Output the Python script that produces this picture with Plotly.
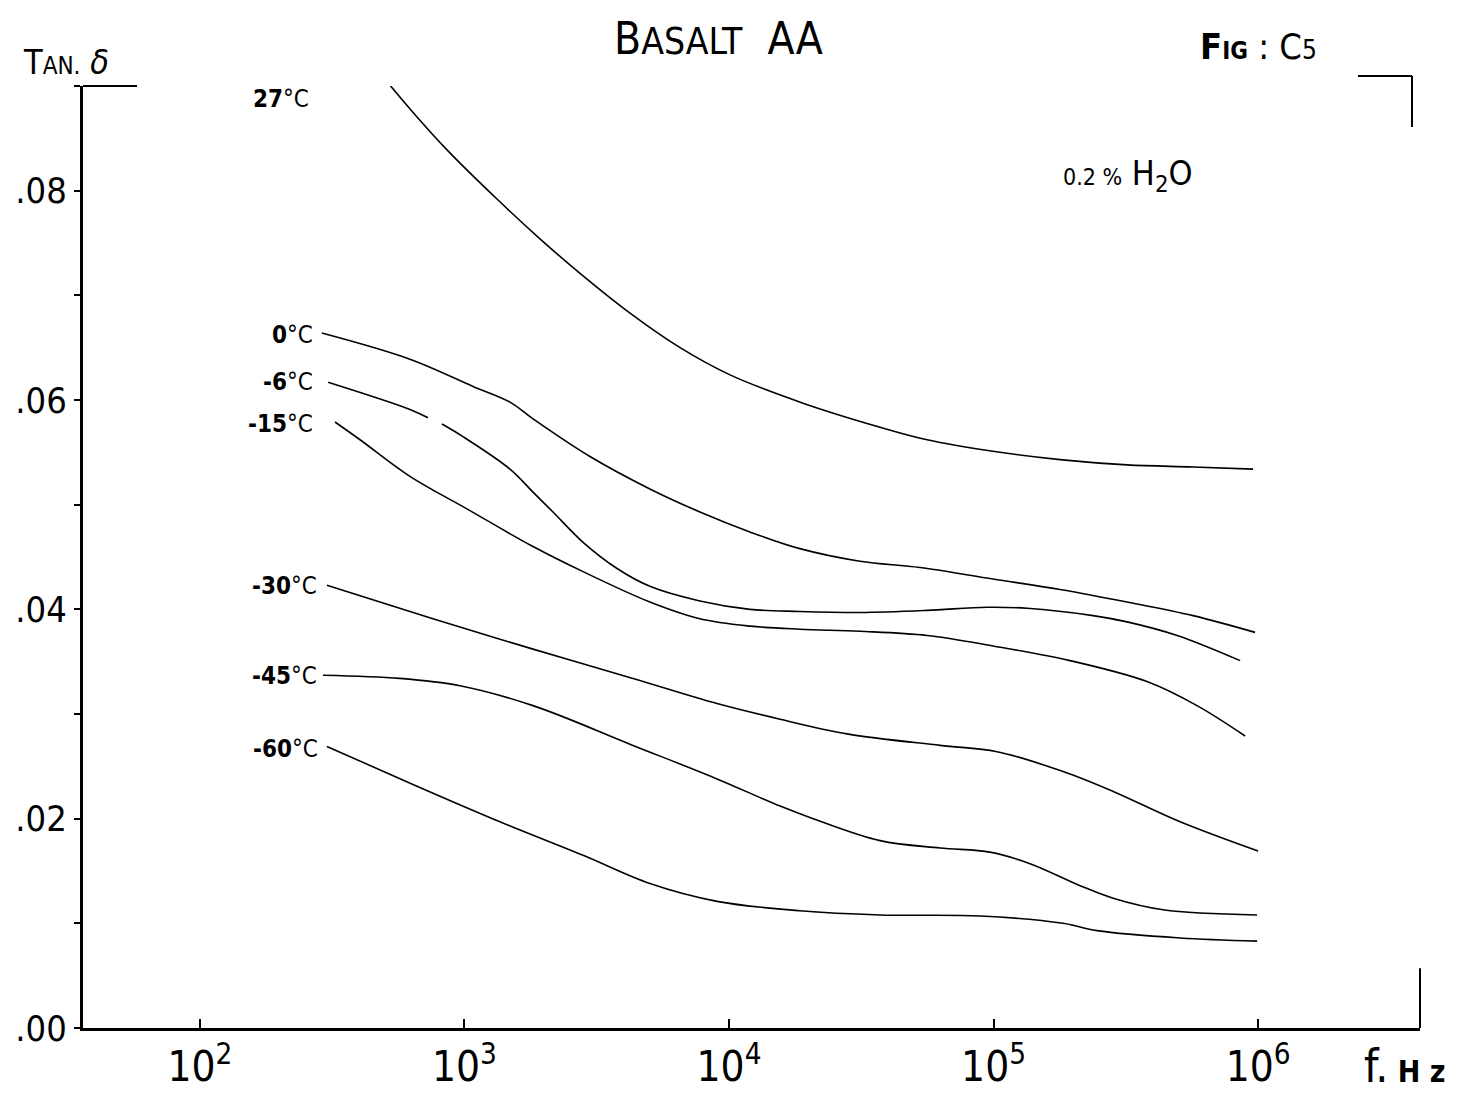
import math
import plotly.graph_objects as go

# ---- data (frequency in Hz, tan delta) ----
f_27 = [514, 638, 859, 1327, 1929, 2734, 4225, 6531, 10090, 19050, 37240, 56100, 99500, 178300, 319600, 567600, 957000]
t_27 = [0.0903, 0.0875, 0.0839, 0.0792, 0.0754, 0.0721, 0.0683, 0.0650, 0.0624, 0.0597, 0.0574, 0.0562, 0.0551, 0.0543, 0.0538, 0.0536, 0.0534]

f_0 = [289, 622, 1077, 1486, 1816, 2981, 5022, 7762, 11990, 18530, 31240, 52700, 99500, 178300, 319600, 567600, 974000]
t_0 = [0.0664, 0.0639, 0.0613, 0.0598, 0.0582, 0.0546, 0.0515, 0.0493, 0.0474, 0.0458, 0.0446, 0.0440, 0.0429, 0.0419, 0.0407, 0.0394, 0.0378]

f_m6 = [305, 622, 728, None, 822, 987, 1486, 1816, 2161, 2808, 3774, 5022, 7762, 11990, 18530, 31240, 56100, 94450, 133900, 237800, 319600, 494300, 855000]
t_m6 = [0.0617, 0.0591, 0.0583, None, 0.0577, 0.0565, 0.0534, 0.0512, 0.0493, 0.0464, 0.0439, 0.0422, 0.0408, 0.0400, 0.0398, 0.0397, 0.0399, 0.0402, 0.0401, 0.0394, 0.0388, 0.0375, 0.0351]

f_m15 = [324, 403, 622, 1021, 1816, 2808, 5022, 7762, 11990, 18530, 31240, 56100, 99500, 194600, 380200, 587500, 893000]
t_m15 = [0.0579, 0.0562, 0.0527, 0.0496, 0.0460, 0.0436, 0.0407, 0.0391, 0.0384, 0.0381, 0.0379, 0.0375, 0.0365, 0.0351, 0.0331, 0.0308, 0.0279]

f_m30 = [302, 760, 1816, 4335, 9010, 15600, 27930, 62800, 103000, 183200, 283200, 507500, 1000000]
t_m30 = [0.0423, 0.0391, 0.0362, 0.0334, 0.0310, 0.0295, 0.0281, 0.0270, 0.0264, 0.0245, 0.0226, 0.0197, 0.0169]

f_m45 = [292, 570, 961, 1816, 4335, 9010, 15600, 20800, 37240, 62800, 97000, 137400, 212300, 283200, 437600, 991000]
t_m45 = [0.0337, 0.0334, 0.0327, 0.0308, 0.0270, 0.0238, 0.0212, 0.0200, 0.0179, 0.0172, 0.0168, 0.0157, 0.0136, 0.0124, 0.0113, 0.0108]

f_m60 = [302, 661, 1361, 2808, 5022, 9010, 18530, 37240, 88900, 183200, 246000, 507500, 991000]
t_m60 = [0.0269, 0.0231, 0.0197, 0.0165, 0.0138, 0.0121, 0.0112, 0.0108, 0.0107, 0.0100, 0.0093, 0.0086, 0.0083]

series = [
    ("27°C", f_27, t_27),
    ("0°C", f_0, t_0),
    ("-6°C", f_m6, t_m6),
    ("-15°C", f_m15, t_m15),
    ("-30°C", f_m30, t_m30),
    ("-45°C", f_m45, t_m45),
    ("-60°C", f_m60, t_m60),
]

# curve labels: (number part, label y value, right-edge frequency)
label_nums = ["27", "0", "-6", "-15", "-30", "-45", "-60"]
label_y = [0.0888, 0.0662, 0.0617, 0.0577, 0.0422, 0.0336, 0.0267]
label_right_f = [262, 272, 272, 272, 282, 282, 284]

x_tickvals = [1e2, 1e3, 1e4, 1e5, 1e6]
x_ticktext = ["10<sup>2</sup>", "10<sup>3</sup>", "10<sup>4</sup>", "10<sup>5</sup>", "10<sup>6</sup>"]
y_tickvals = [0.00, 0.02, 0.04, 0.06, 0.08]
y_ticktext = [".00", ".02", ".04", ".06", ".08"]

FONT = "DejaVu Sans Condensed, Liberation Sans Narrow, sans-serif"

fig = go.Figure()
for name, fx, ty in series:
    fig.add_trace(go.Scatter(
        x=fx, y=ty, mode="lines", name=name,
        line=dict(color="black", width=1.6, shape="spline", smoothing=1.0),
        connectgaps=False, showlegend=False, hoverinfo="skip",
    ))

annotations = []
for num, yv, fr in zip(label_nums, label_y, label_right_f):
    annotations.append(dict(
        x=math.log10(fr), y=yv, xref="x", yref="y",
        text=f"<b>{num}</b>°C", showarrow=False, xanchor="right", yanchor="middle",
        font=dict(family=FONT, size=24, color="black"),
    ))

def px(xp):
    return (xp - 83) / 1337

def py(yp):
    return (1030 - yp) / 944

# titles and free text
annotations += [
    dict(x=px(718), y=py(38), xref="paper", yref="paper",
         text="B<span style='font-size:37px'>ASALT</span>  AA", showarrow=False,
         xanchor="center", yanchor="middle",
         font=dict(family=FONT, size=44, color="black")),
    dict(x=px(1258), y=py(46), xref="paper", yref="paper",
         text="<b>F<span style='font-size:24px'>IG</span></b> : C<span style='font-size:26px'>5</span>",
         showarrow=False, xanchor="center", yanchor="middle",
         font=dict(family=FONT, size=36, color="black")),
    dict(x=px(66), y=py(62), xref="paper", yref="paper",
         text="T<span style='font-size:24px'>AN.</span> <i>δ</i>", showarrow=False,
         xanchor="center", yanchor="middle",
         font=dict(family=FONT, size=34, color="black")),
    dict(x=px(1128), y=py(176), xref="paper", yref="paper",
         text="<span style='font-size:23px'>0.2 %</span> H<sub>2</sub>O", showarrow=False,
         xanchor="center", yanchor="middle",
         font=dict(family=FONT, size=34, color="black")),
    dict(x=px(1362), y=py(1068), xref="paper", yref="paper",
         text="f.<b><span style='font-size:30px'> H z</span></b>", showarrow=False,
         xanchor="left", yanchor="middle",
         font=dict(family=FONT, size=46, color="black")),
]

shapes = [
    # stroke at top of y axis
    dict(type="line", xref="paper", yref="paper", x0=0, y0=1, x1=px(137), y1=1,
         line=dict(color="black", width=2)),
    # top-right corner mark
    dict(type="line", xref="paper", yref="paper", x0=px(1358), y0=py(76), x1=px(1412), y1=py(76),
         line=dict(color="black", width=2)),
    dict(type="line", xref="paper", yref="paper", x0=px(1412), y0=py(76), x1=px(1412), y1=py(127),
         line=dict(color="black", width=2)),
    # bottom-right corner mark
    dict(type="line", xref="paper", yref="paper", x0=1, y0=py(970), x1=1, y1=0,
         line=dict(color="black", width=2)),
]

fig.update_layout(
    width=1480, height=1103,
    margin=dict(l=83, r=60, t=86, b=73),
    paper_bgcolor="white", plot_bgcolor="white",
    annotations=annotations, shapes=shapes,
    xaxis=dict(
        type="log", range=[1.558, 6.612],
        tickvals=x_tickvals, ticktext=x_ticktext,
        ticks="inside", ticklen=9, tickwidth=2, tickcolor="black",
        showline=True, linecolor="black", linewidth=3,
        showgrid=False, zeroline=False,
        tickfont=dict(family=FONT, size=42, color="black"),
    ),
    yaxis=dict(
        range=[0, 0.09],
        tickvals=y_tickvals, ticktext=y_ticktext,
        ticks="outside", ticklen=6, tickwidth=2, tickcolor="black",
        minor=dict(tick0=0.01, dtick=0.02, ticks="outside", ticklen=6,
                   tickwidth=2, tickcolor="black", showgrid=False),
        showline=True, linecolor="black", linewidth=3,
        showgrid=False, zeroline=False,
        tickfont=dict(family=FONT, size=36, color="black"),
    ),
)

fig.write_html("out.html")
